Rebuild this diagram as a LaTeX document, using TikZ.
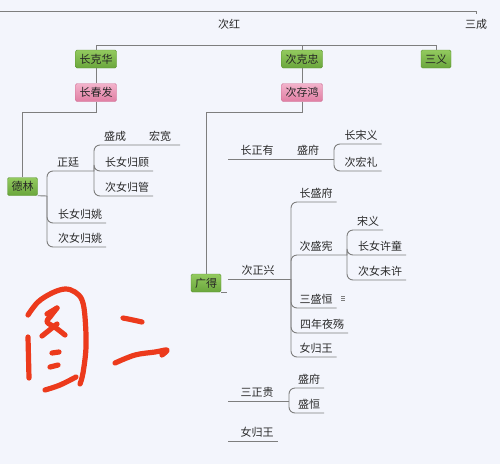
\documentclass[tikz,border=0pt]{standalone}
\usepackage{fontspec}
\newfontfamily\cjk{Noto Sans CJK SC}
\definecolor{bg}{HTML}{F3F5FC}
\definecolor{lnc}{HTML}{7E7E7E}
\definecolor{gtop}{HTML}{93CA5F}
\definecolor{gbot}{HTML}{6AA63C}
\definecolor{gbrd}{HTML}{5C9532}
\definecolor{ptop}{HTML}{F2B2CB}
\definecolor{pbot}{HTML}{E07EA3}
\definecolor{pbrd}{HTML}{CF7398}
\definecolor{ink}{HTML}{EC3A1C}
\definecolor{txt}{HTML}{2A2A2A}
\begin{document}
\begin{tikzpicture}[x=1pt,y=-1pt,
  conn/.style={draw=lnc, line width=0.9pt},
  brk/.style={conn, rounded corners=6pt},
  lbl/.style={inner xsep=0pt, inner ysep=2.5pt, text height=9pt, text depth=2pt, anchor=south,
              font=\cjk\fontsize{11}{13}\selectfont, text=txt},
  gbox/.style={rounded corners=1.5pt, draw=gbrd, top color=gtop, bottom color=gbot,
               inner xsep=4pt, inner ysep=0pt, minimum height=18pt,
               font=\cjk\fontsize{11}{13}\selectfont, text=black!85},
  pbox/.style={gbox, draw=pbrd, top color=ptop, bottom color=pbot},
  inkstroke/.style={draw=ink, line width=5.2pt, line cap=round, line join=round}]
\fill[bg] (0,0) rectangle (500,464);
\useasboundingbox (0,0) rectangle (500,464);

% top level
\node[lbl, anchor=center] (cihong) at (229,25) {次红};
\node[lbl, anchor=center] (sancheng) at (476,25) {三成};
\coordinate (topl) at (0,11.5);
\draw[conn] (topl) -| ([yshift=3pt]sancheng.north);

\node[gbox] (kh) at (96,59) {长克华};
\node[gbox] (kz) at (302,59) {次克忠};
\node[gbox] (sy) at (436,59) {三义};
\node[pbox] (cf) at (96,92.5) {长春发};
\node[pbox] (cc) at (302,92.5) {次存鸿};
\draw[conn] (kh.north) |- ([yshift=4.5pt]sy.north) -- (sy.north);
\draw[conn] (kz.north) -- ++(0,-4.5);
\draw[conn] (kh) -- (cf);
\draw[conn] (kz) -- (cc);

\node[gbox] (dl) at (22.5,186.5) {德林};
\node[gbox] (gd) at (206,283) {广得};
\draw[conn] (cf.south) -- ++(0,10.5) -| (dl.north);
\draw[conn] (cc.south) -- ++(0,10.5) -| (gd.north);

% left subtree
\coordinate (j1) at (47,196);
\coordinate (j2) at (94,171);
\draw[conn] (dl.south east) -- (j1);
\node[lbl] (zt) at (68,171) {正廷};
\node[lbl] (cy1) at (80,223) {长女归姚};
\node[lbl] (cy2) at (80,247) {次女归姚};
\draw[brk] (j1) |- (j2);
\draw[brk] (j1) |- ([xshift=4pt]cy1.south east);
\draw[brk] (j1) |- ([xshift=4pt]cy2.south east);
\node[lbl] (sc) at (115,145) {盛成};
\node[lbl] (hk) at (160,145) {宏宽};
\node[lbl] (cg) at (127,171) {长女归顾};
\node[lbl] (cgu) at (127,196) {次女归管};
\draw[brk] (j2) |- ([xshift=9pt]hk.south east);
\draw[brk] (j2) |- ([xshift=4pt]cg.south east);
\draw[brk] (j2) |- ([xshift=4pt]cgu.south east);

% right subtree
\draw[conn] (gd.south east) -- ++(6,0);

\coordinate (s1) at (228,159);
\coordinate (j3) at (334,159);
\node[lbl] (zy) at (257,159) {长正有};
\node[lbl] (sf1) at (308,159) {盛府};
\draw[conn] (s1) -- (j3);
\node[lbl] (csy) at (361,144) {长宋义};
\node[lbl] (chl) at (361,171) {次宏礼};
\draw[brk] (j3) |- ([xshift=4pt]csy.south east);
\draw[brk] (j3) |- ([xshift=4pt]chl.south east);

\coordinate (s2) at (228,279);
\coordinate (j4) at (291,279);
\coordinate (j5) at (347,255);
\node[lbl] (zx) at (258,279) {次正兴};
\draw[conn] (s2) -- (j4);
\node[lbl] (csf) at (316,202) {长盛府};
\node[lbl] (csx) at (316,255) {次盛宪};
\node[lbl] (ssh) at (316,308) {三盛恒};
\node[lbl] (snys) at (322,333) {四年夜殇};
\node[lbl] (ngw1) at (316,357) {女归王};
\draw[brk] (j4) |- ([xshift=4pt]csf.south east);
\draw[brk] (j4) |- (j5);
\draw[brk] (j4) |- ([xshift=4pt]ssh.south east);
\draw[brk] (j4) |- ([xshift=4pt]snys.south east);
\draw[brk] (j4) |- ([xshift=4pt]ngw1.south east);
\foreach \yy in {296.5,298.5,300.5}
  \draw[lnc, line width=0.6pt] (341,\yy) -- (345,\yy);
\node[lbl] (syi) at (368,230) {宋义};
\node[lbl] (cnxt) at (380,255) {长女许童};
\node[lbl] (cnwx) at (380,280) {次女未许};
\draw[brk] (j5) |- ([xshift=4pt]syi.south east);
\draw[brk] (j5) |- ([xshift=4pt]cnxt.south east);
\draw[brk] (j5) |- ([xshift=4pt]cnwx.south east);

\coordinate (s3) at (228,401);
\coordinate (j6) at (289,401);
\node[lbl] (szg) at (257,401) {三正贵};
\draw[conn] (s3) -- (j6);
\node[lbl] (sf2) at (309,388) {盛府};
\node[lbl] (sh2) at (309,413) {盛恒};
\draw[brk] (j6) |- ([xshift=4pt]sf2.south east);
\draw[brk] (j6) |- ([xshift=4pt]sh2.south east);

\coordinate (s4) at (228,441);
\node[lbl] (ngw2) at (257,441) {女归王};
\draw[conn] (s4) -- ([xshift=4pt]ngw2.south east);

% handwritten 图二
\draw[inkstroke] plot[smooth, tension=0.6] coordinates {(28,315) (38,302) (52,293) (65,289) (75,292) (82,300) (85,317) (86,347) (83,373) (80,384)};
\draw[inkstroke] plot[smooth, tension=0.6] coordinates {(45,390) (60,385) (76,377)};
\draw[inkstroke] (28,337) -- (29,378);
\draw[inkstroke] (47,314) -- (57,308);
\draw[inkstroke] plot[smooth, tension=0.6] coordinates {(57,308) (50,317) (47,322) (56,328) (65,335)};
\draw[inkstroke] (42,336) -- (57,324);
\draw[inkstroke] (52,353) -- (59,352);
\draw[inkstroke] (50,367) -- (58,365);
\draw[inkstroke] plot[smooth, tension=0.6] coordinates {(123,318) (133,320) (142,322)};
\draw[inkstroke] plot[smooth, tension=0.6] coordinates {(115,363) (135,355) (155,352) (167,350) (162,355)};
\end{tikzpicture}
\end{document}
